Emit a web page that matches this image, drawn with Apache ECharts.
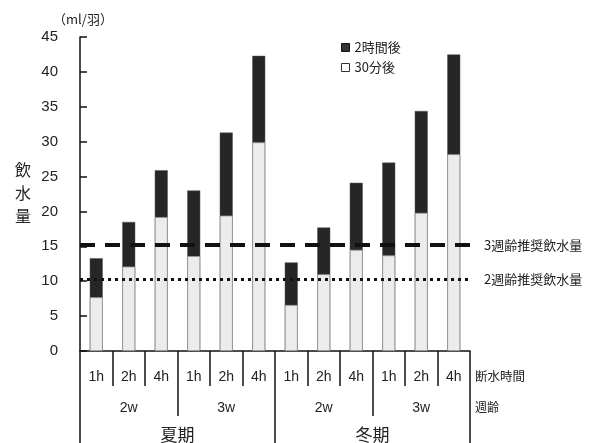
<!DOCTYPE html>
<html><head><meta charset="utf-8">
<script src="https://cdn.jsdelivr.net/npm/echarts@6/dist/echarts.min.js"></script>
<style>html,body{margin:0;padding:0;background:#fff}#c{width:595px;height:443px}</style>
</head><body><div id="c"></div>
<script>
const hours = ['1h','2h','4h','1h','2h','4h','1h','2h','4h','1h','2h','4h'];
const weeks = ['2w','3w','2w','3w'];
const seasons = ['夏期','冬期'];
const after2h = [13.3,18.5,25.9,23.0,31.3,42.3,12.7,17.7,24.1,27.0,34.4,42.5];
const after30m = [7.7,12.1,19.2,13.6,19.4,29.9,6.6,11.0,14.5,13.7,19.8,28.2];
const rec3w = 15.2;
const rec2w = 10.3;

const F = "'Liberation Sans','Noto Sans CJK JP',sans-serif";
const JF = "'Noto Sans CJK JP','Liberation Sans',sans-serif";
const chart = echarts.init(document.getElementById('c'), null, {renderer:'canvas'});
chart.setOption({
  animation:false,
  backgroundColor:'#fff',
  title:{text:'飲\n水\n量', left:10, top:153, textStyle:{fontFamily:JF, fontSize:16, fontWeight:'normal', color:'#222', lineHeight:23}},
  legend:{
    orient:'vertical', left:336, top:36, itemWidth:8, itemHeight:8, itemGap:7,
    textStyle:{fontFamily:JF, fontSize:13, color:'#222'},
    data:[
      {name:'2時間後', icon:'rect', itemStyle:{color:'#333', borderColor:'#111', borderWidth:1}},
      {name:'30分後', icon:'rect', itemStyle:{color:'#fff', borderColor:'#333', borderWidth:1}}
    ]
  },
  grid:{left:80, right:125, top:37, bottom:90, containLabel:false},
  xAxis:[
    {type:'category', data:hours, position:'bottom',
     axisLine:{show:true, lineStyle:{color:'#111', width:1.5}},
     axisTick:{show:true, length:35, lineStyle:{color:'#111', width:1.5}},
     axisLabel:{fontFamily:F, fontSize:14, color:'#222', margin:19},
     name:'断水時間', nameLocation:'end', nameGap:5,
     nameTextStyle:{fontFamily:JF, fontSize:12.5, color:'#222', verticalAlign:'top', padding:[19,0,0,0]}},
    {type:'category', data:weeks, position:'bottom', offset:35,
     axisLine:{show:false}, axisTick:{show:true, length:30, lineStyle:{color:'#111', width:1.5}},
     axisLabel:{fontFamily:F, fontSize:14, color:'#222', margin:15},
     name:'週齢', nameLocation:'end', nameGap:5,
     nameTextStyle:{fontFamily:JF, fontSize:12, color:'#222', verticalAlign:'top', padding:[15,0,0,0]}},
    {type:'category', data:seasons, position:'bottom', offset:35,
     axisLine:{show:false}, axisTick:{show:true, length:70, lineStyle:{color:'#111', width:1.5}},
     axisLabel:{fontFamily:JF, fontSize:17, color:'#222', margin:40}}
  ],
  yAxis:{type:'value', min:0, max:45, interval:5,
    name:'（ml/羽）', nameLocation:'end', nameGap:11,
    nameTextStyle:{fontFamily:JF, fontSize:13, color:'#222', padding:[0,0,0,6]},
    axisLine:{show:true, lineStyle:{color:'#111', width:1.5}},
    axisTick:{show:true, inside:true, length:7, lineStyle:{color:'#111', width:1.5}},
    axisLabel:{fontFamily:F, fontSize:15, color:'#222', margin:22},
    splitLine:{show:false}},
  series:[
    {name:'2時間後', type:'bar', data:after2h, barWidth:13, barGap:'-100%', z:2,
     itemStyle:{color:'#262626', borderColor:'#555', borderWidth:0.5},
     markLine:{silent:true, symbol:'none', z:5,
       data:[
         {yAxis:rec3w, lineStyle:{color:'#111', width:4, type:[15,10]},
          label:{show:true, position:'end', formatter:'3週齢推奨飲水量', distance:14, fontFamily:JF, fontSize:13, color:'#222'}},
         {yAxis:rec2w, lineStyle:{color:'#111', width:3, type:[3,4]},
          label:{show:true, position:'end', formatter:'2週齢推奨飲水量', distance:14, fontFamily:JF, fontSize:13, color:'#222'}}
       ]}},
    {name:'30分後', type:'bar', data:after30m, barWidth:13, z:3,
     itemStyle:{color:'#ececec', borderColor:'#999', borderWidth:0.8}}
  ]
});
</script></body></html>
